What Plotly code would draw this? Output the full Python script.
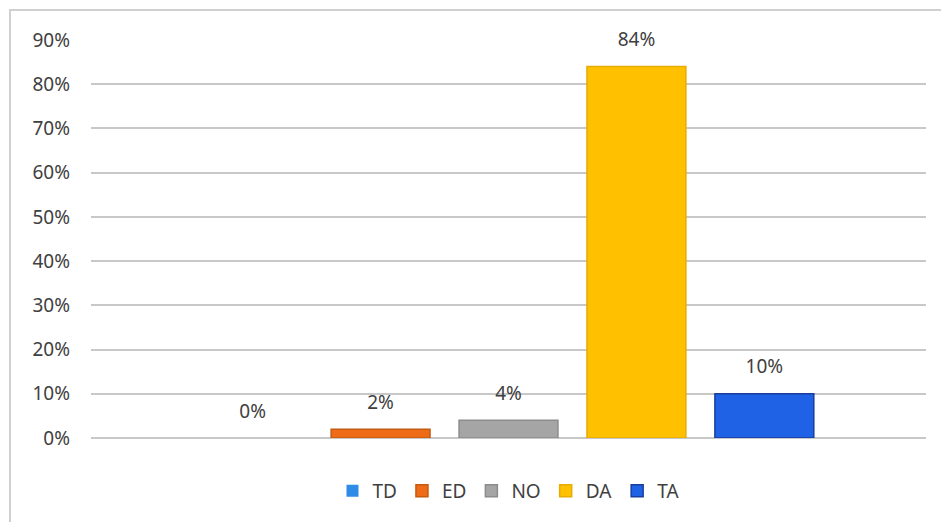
import plotly.graph_objects as go

categories = [""]
series_names = ["TD", "ED", "NO", "DA", "TA"]
series_values = [0.0, 0.02, 0.04, 0.84, 0.10]
value_labels = ["0%", "2%", "4%", "84%", "10%"]
fill_colors = ["#2E8BE6", "#EE6C17", "#A5A5A5", "#FFC000", "#1F62E6"]
line_colors = ["#2E75B6", "#C55A11", "#8C8C8C", "#E6AC00", "#1A3E9E"]
tick_vals = [0, 0.1, 0.2, 0.3, 0.4, 0.5, 0.6, 0.7, 0.8, 0.9]
tick_text = ["0%", "10%", "20%", "30%", "40%", "50%", "60%", "70%", "80%", "90%"]

FONT = "Noto Sans, Open Sans, sans-serif"
FS = 19

fig = go.Figure()
for name, val, lab, fc, lc in zip(series_names, series_values, value_labels, fill_colors, line_colors):
    fig.add_trace(go.Bar(
        name=name, x=categories, y=[val],
        marker=dict(color=fc, line=dict(color=lc, width=1.5 if val > 0 else 0)),
        text=["<span style='font-size:%dpx'>%s</span><br> " % (FS, lab)],
        textposition="outside", cliponaxis=False, constraintext="none",
        textfont=dict(size=11, color="#404040", family=FONT),
    ))

fig.update_layout(
    width=941, height=522,
    margin=dict(l=91, r=15, t=40, b=84),
    paper_bgcolor="white", plot_bgcolor="white",
    barmode="group", bargap=0.234, bargroupgap=0.227,
    font=dict(family=FONT, size=FS, color="#404040"),
    showlegend=True,
    legend=dict(orientation="h", x=0.5, xanchor="center", y=-0.085, yanchor="top",
                font=dict(size=FS, color="#404040", family=FONT),
                itemwidth=30, tracegroupgap=0),
    xaxis=dict(showticklabels=False, showgrid=False, zeroline=False, showline=False),
    yaxis=dict(range=[0, 0.9], tickvals=tick_vals, ticktext=tick_text,
               showgrid=True, gridcolor="#C8C8C8", gridwidth=2,
               zeroline=True, zerolinecolor="#C8C8C8", zerolinewidth=2,
               showline=False, ticks="", ticklabelstandoff=20,
               tickfont=dict(size=FS, color="#404040", family=FONT)),
    shapes=[dict(type="rect", xref="paper", yref="paper",
                 x0=(10 - 91) / 835, x1=(950 - 91) / 835,
                 y0=(438 - 530) / 398, y1=(438 - 10) / 398,
                 line=dict(color="#D0D0D0", width=2), fillcolor="rgba(0,0,0,0)", layer="below")],
)

fig.write_html("out.html")
